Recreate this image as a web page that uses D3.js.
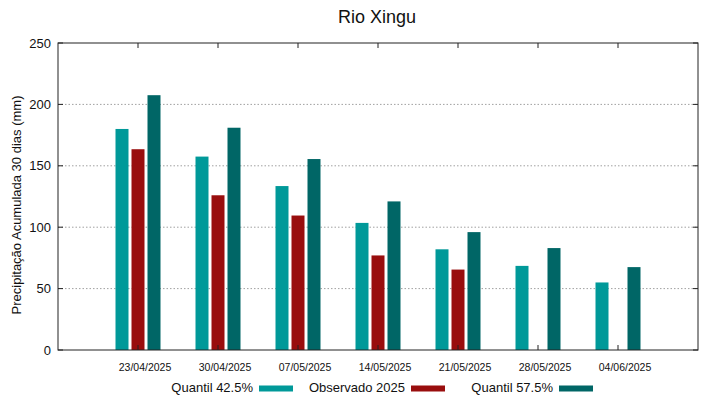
<!DOCTYPE html>
<html>
<head>
<meta charset="utf-8">
<script src="https://cdn.jsdelivr.net/npm/d3@7"></script>
<style>
  body { margin: 0; background: #fff; }
  svg { font-family: "Liberation Sans", Arial, sans-serif; }
</style>
</head>
<body>
<div id="chart"></div>
<script>
const categories = ['23/04/2025', '30/04/2025', '07/05/2025', '14/05/2025', '21/05/2025', '28/05/2025', '04/06/2025'];
const quantil425 = [180, 157.5, 133.5, 103.5, 82, 68.5, 55];
const observado = [163.5, 126, 109.5, 77, 65.5, null, null];
const quantil575 = [207.5, 181, 155.5, 121, 96, 83, 67.5];
const yTicks = [0, 50, 100, 150, 200, 250];

const series = [
  { name: 'Quantil 42.5%', values: quantil425, color: '#009999' },
  { name: 'Observado 2025', values: observado, color: '#990e0e' },
  { name: 'Quantil 57.5%', values: quantil575, color: '#006666' }
];

const width = 719, height = 399;
const m = { left: 58, right: 21, top: 43, bottom: 49 };

const svg = d3.select('#chart').append('svg')
  .attr('width', width)
  .attr('height', height);

// gnuplot-like x axis: categories at integer positions, range [-1, 7]
const x = d3.scaleLinear().domain([-1, 7]).range([m.left, width - m.right]);
const y = d3.scaleLinear().domain([0, 250]).range([height - m.bottom, m.top]);

const barW = 13, step = 16;

// grid
svg.append('g')
  .selectAll('line')
  .data(yTicks.filter(d => d > 0 && d < 250))
  .enter().append('line')
  .attr('x1', m.left).attr('x2', width - m.right)
  .attr('y1', d => y(d)).attr('y2', d => y(d))
  .attr('stroke', '#a0a0a0')
  .attr('stroke-width', 1)
  .attr('stroke-dasharray', '1.5,2');

// bars
series.forEach((s, i) => {
  svg.append('g')
    .selectAll('rect')
    .data(s.values.map((v, j) => ({ v, j })).filter(d => d.v != null))
    .enter().append('rect')
    .attr('x', d => x(d.j) + (i - 1) * step - barW / 2)
    .attr('y', d => y(d.v))
    .attr('width', barW)
    .attr('height', d => y(0) - y(d.v))
    .attr('fill', s.color);
});

// frame
svg.append('rect')
  .attr('x', m.left).attr('y', m.top)
  .attr('width', width - m.left - m.right)
  .attr('height', height - m.top - m.bottom)
  .attr('fill', 'none')
  .attr('stroke', '#222')
  .attr('stroke-width', 1);

// ticks, inward and mirrored
const tickLen = 5;
const tk = svg.append('g').attr('stroke', '#222').attr('stroke-width', 1);
categories.forEach((c, j) => {
  tk.append('line').attr('x1', x(j)).attr('x2', x(j)).attr('y1', y(0)).attr('y2', y(0) - tickLen);
  tk.append('line').attr('x1', x(j)).attr('x2', x(j)).attr('y1', m.top).attr('y2', m.top + tickLen);
});
yTicks.forEach(t => {
  tk.append('line').attr('x1', m.left).attr('x2', m.left + tickLen).attr('y1', y(t)).attr('y2', y(t));
  tk.append('line').attr('x1', width - m.right).attr('x2', width - m.right - tickLen).attr('y1', y(t)).attr('y2', y(t));
});

// y tick labels
svg.append('g')
  .selectAll('text')
  .data(yTicks)
  .enter().append('text')
  .attr('x', m.left - 7)
  .attr('y', d => y(d))
  .attr('dy', '0.35em')
  .attr('text-anchor', 'end')
  .style('font-size', '13px')
  .attr('fill', '#111')
  .text(d => d);

// x tick labels (offset right like the original)
svg.append('g')
  .selectAll('text')
  .data(categories)
  .enter().append('text')
  .attr('x', (d, j) => x(j) + 7)
  .attr('y', y(0) + 21)
  .attr('text-anchor', 'middle')
  .style('font-size', '10.5px')
  .attr('fill', '#111')
  .text(d => d);

// title
svg.append('text')
  .attr('x', 377)
  .attr('y', 23)
  .attr('text-anchor', 'middle')
  .style('font-size', '18px')
  .attr('fill', '#111')
  .text('Rio Xingu');

// y label
svg.append('text')
  .attr('transform', 'translate(21,205) rotate(-90)')
  .attr('text-anchor', 'middle')
  .style('font-size', '13px')
  .attr('fill', '#111')
  .text('Precipitação Acumulada 30 dias (mm)');

// legend
const legX = [259, 411, 559];
const leg = svg.append('g');
series.forEach((s, i) => {
  leg.append('text')
    .attr('x', legX[i] - 6)
    .attr('y', 392)
    .attr('text-anchor', 'end')
    .style('font-size', '13px')
    .attr('fill', '#111')
    .text(s.name);
  leg.append('rect')
    .attr('x', legX[i])
    .attr('y', 385.5)
    .attr('width', 34)
    .attr('height', 6)
    .attr('fill', s.color);
});
</script>
</body>
</html>
